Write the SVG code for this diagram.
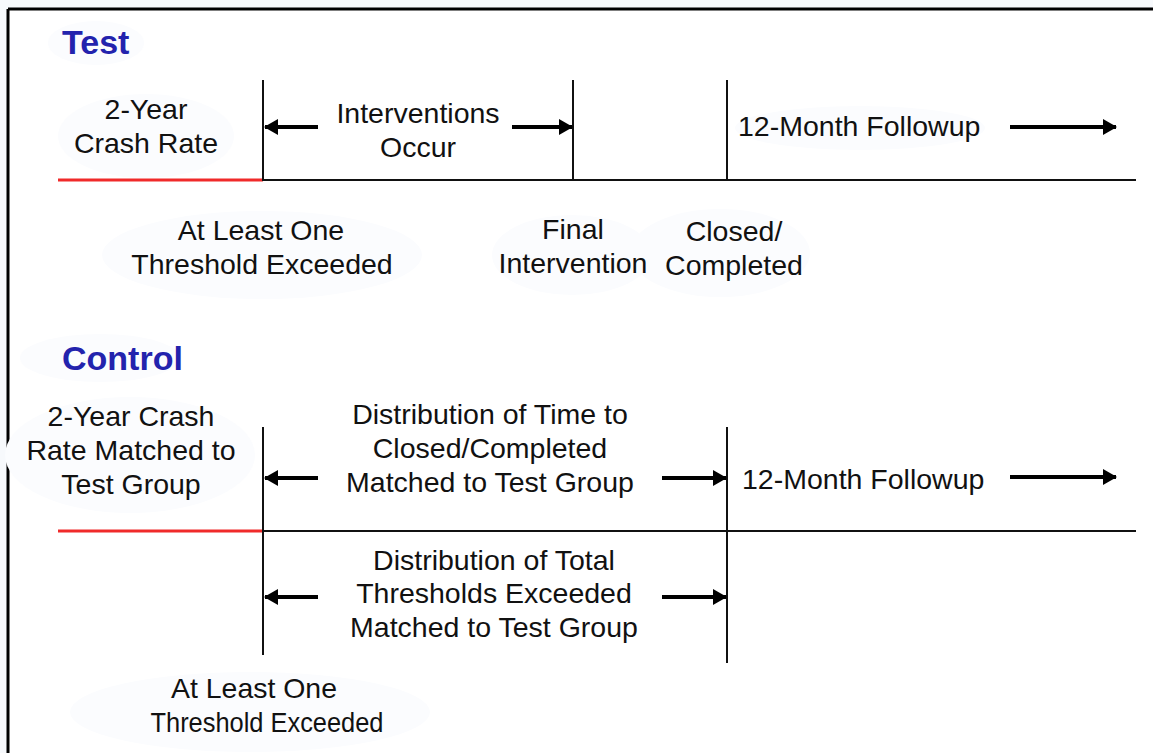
<svg xmlns="http://www.w3.org/2000/svg" width="1153" height="753" viewBox="0 0 1153 753">
<style>
.t{font-family:"Liberation Sans",Arial,sans-serif;font-size:28.5px;fill:#111;text-anchor:middle}
.s{text-anchor:start}
.h{font-family:"Liberation Sans",Arial,sans-serif;font-size:34px;font-weight:bold;fill:#2323ad}
.ln{stroke:#111;stroke-width:2;fill:none}
.red{stroke:#f02a2a;stroke-width:3;fill:none}
.ar{stroke:#000;stroke-width:4;fill:none}
.bl{fill:#fbfcfe}
</style>
<defs>
<marker id="ah" viewBox="0 0 14 16" refX="13" refY="8" markerWidth="14" markerHeight="16" markerUnits="userSpaceOnUse" orient="auto">
<path d="M0,0 L14,8 L0,16 Z" fill="#000"/>
</marker>
</defs>
<rect x="0" y="0" width="1153" height="753" fill="#f7f9fc"/>
<rect x="9" y="10" width="1150" height="750" fill="#fff"/>
<path d="M8,9 H1153 M8,9 V753" stroke="#000" stroke-width="3" fill="none"/>
<g id="blobs">
<ellipse class="bl" cx="96" cy="43" rx="48" ry="22"/>
<ellipse class="bl" cx="146" cy="136" rx="88" ry="42"/>
<ellipse class="bl" cx="262" cy="255" rx="160" ry="44"/>
<ellipse class="bl" cx="720" cy="253" rx="90" ry="44"/>
<ellipse class="bl" cx="572" cy="255" rx="80" ry="40"/>
<ellipse class="bl" cx="860" cy="128" rx="125" ry="22"/>
<ellipse class="bl" cx="100" cy="358" rx="80" ry="24"/>
<ellipse class="bl" cx="130" cy="455" rx="125" ry="58"/>
<ellipse class="bl" cx="250" cy="712" rx="180" ry="40"/>
</g>
<g id="connectors">
<line class="red" x1="58" y1="180" x2="263" y2="180"/>
<line class="ln" x1="263" y1="180" x2="1136" y2="180"/>
<line class="ln" x1="263" y1="80" x2="263" y2="181"/>
<line class="ln" x1="573" y1="80" x2="573" y2="181"/>
<line class="ln" x1="727" y1="80" x2="727" y2="181"/>
<line class="ar" x1="318" y1="127" x2="265" y2="127" marker-end="url(#ah)"/>
<line class="ar" x1="512" y1="127" x2="572" y2="127" marker-end="url(#ah)"/>
<line class="ar" x1="1010" y1="127" x2="1116" y2="127" marker-end="url(#ah)"/>
<line class="red" x1="58" y1="531" x2="263" y2="531"/>
<line class="ln" x1="263" y1="531" x2="1136" y2="531"/>
<line class="ln" x1="263" y1="427" x2="263" y2="655"/>
<line class="ln" x1="727" y1="427" x2="727" y2="663"/>
<line class="ar" x1="318" y1="478" x2="265" y2="478" marker-end="url(#ah)"/>
<line class="ar" x1="662" y1="478" x2="726" y2="478" marker-end="url(#ah)"/>
<line class="ar" x1="1010" y1="477" x2="1116" y2="477" marker-end="url(#ah)"/>
<line class="ar" x1="318" y1="597" x2="265" y2="597" marker-end="url(#ah)"/>
<line class="ar" x1="662" y1="597" x2="726" y2="597" marker-end="url(#ah)"/>
</g>
<g id="test-title"><text class="h" x="62" y="54">Test</text></g>
<g id="test-crash"><text class="t" x="146" y="119">2-Year</text><text class="t" x="146" y="153">Crash Rate</text></g>
<g id="test-interventions"><text class="t" x="418" y="123">Interventions</text><text class="t" x="418" y="157">Occur</text></g>
<g id="test-followup"><text class="t s" x="738" y="136">12-Month Followup</text></g>
<g id="test-threshold"><text class="t" x="261" y="240">At Least One</text><text class="t" x="262" y="274">Threshold Exceeded</text></g>
<g id="test-final"><text class="t" x="573" y="239">Final</text><text class="t" x="573" y="273">Intervention</text></g>
<g id="test-closed"><text class="t" x="734" y="241">Closed/</text><text class="t" x="734" y="275">Completed</text></g>
<g id="control-title"><text class="h" x="62" y="370">Control</text></g>
<g id="control-crash"><text class="t" x="131" y="426">2-Year Crash</text><text class="t" x="131" y="460">Rate Matched to</text><text class="t" x="131" y="494">Test Group</text></g>
<g id="control-time"><text class="t" x="490" y="424">Distribution of Time to</text><text class="t" x="490" y="458">Closed/Completed</text><text class="t" x="490" y="492">Matched to Test Group</text></g>
<g id="control-followup"><text class="t s" x="742" y="489">12-Month Followup</text></g>
<g id="control-total"><text class="t" x="494" y="570">Distribution of Total</text><text class="t" x="494" y="603">Thresholds Exceeded</text><text class="t" x="494" y="637">Matched to Test Group</text></g>
<g id="control-threshold"><text class="t" x="254" y="698" textLength="166" lengthAdjust="spacingAndGlyphs">At Least One</text><text class="t" x="267" y="732" textLength="233" lengthAdjust="spacingAndGlyphs">Threshold Exceeded</text></g>
</svg>
